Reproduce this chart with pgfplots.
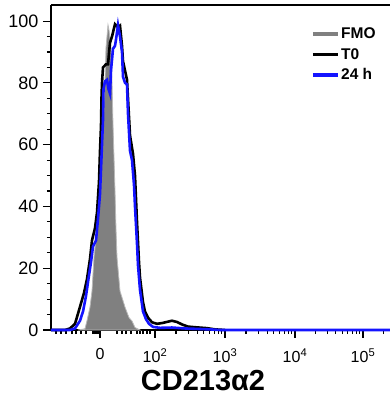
\documentclass[border=0pt]{standalone}
\usepackage{pgfplots}
\pgfplotsset{compat=1.18}
\usepackage{fontspec}
\setmainfont{Liberation Sans}
\definecolor{fmo}{RGB}{128,128,128}
\definecolor{fmoedge}{RGB}{185,185,185}
\definecolor{blu}{RGB}{20,20,255}
\begin{document}
\begin{tikzpicture}[x=1pt,y=1pt]
\path[use as bounding box] (-51,-71) rectangle (339,330);
\begin{axis}[
  anchor=south west, at={(0,0)},
  scale only axis, width=339pt, height=325pt,
  xmin=51, xmax=390, ymin=0, ymax=105.2,
  axis x line=box, axis y line=left,
  axis line style={-, line width=1.4pt, black},
  xtick pos=left, ytick pos=left,
  tick align=outside,
  major tick length=8pt, minor tick length=4pt,
  every tick/.style={black, line width=1.1pt},
  xtick={100,155,225,295,363},
  xticklabels={0,10\textsuperscript{2},10\textsuperscript{3},10\textsuperscript{4},10\textsuperscript{5}},
  minor xtick={56,61,66,72,76,81,86,93,95,97,98.5,117,122,126,131,137,140,143,147,150,
    176,188.4,197.1,203.9,209.5,214.2,218.2,221.8,
    246,258.4,267.1,273.9,279.5,284.2,288.2,291.8,
    315.5,327.4,335.9,342.5,347.9,352.5,356.4,359.9,383.5},
  ytick={0,20,...,100},
  minor y tick num=3,
  /pgf/number format/assume math mode=true,
  yticklabel style={font=\fontsize{18}{18}\selectfont, xshift=-1pt},
  xticklabel style={font=\fontsize{16}{16}\selectfont, yshift=-7pt},
  xlabel={CD213α2},
  every axis x label/.style={at={(axis description cs:0.4484,0)}, anchor=base, yshift=-60pt, font=\fontsize{29}{29}\selectfont\bfseries},
  clip=false,
  legend image code/.code={\draw[#1] (0pt,0pt) -- (25pt,0pt);},
  legend style={draw=none, fill=none, anchor=north west, at={(axis cs:311,98.3)},
    font=\fontsize{15.5}{15.5}\selectfont\bfseries, row sep=5pt, inner sep=0pt,
    nodes={inner sep=1.5pt}},
  legend cell align=left,
]
\addplot[fill=fmo, draw=fmoedge, line width=0.8pt, forget plot] coordinates {
(78,0)(85,0.4)(87,3)(90,7.4)(92,12.6)(94,23.5)(97,32.6)(100,48)(103,66.5)(105,80.3)(106,91.3)(108,98.7)(109,97)(111,91.3)(112,80.3)(113,66.5)(115,45)(116,32.6)(117,23.5)(120,12.6)(125,7.4)(129,4)(132,2.9)(135,0.8)(140,0)
} \closedcycle;
\addplot[black, line width=2.6pt, forget plot] coordinates {
(51,0)(65,0)(70,0.5)(75,2)(80,7.5)(84,12)(87,16.5)(90,23)(92,29)(95,33)(97,38)(99,48)(100,58)(101,66)(101.5,75)(102,80)(103,85)(106,86)(108,86)(110,93)(112,95)(115,99)(118,98)(120,98.5)(122,92)(123,87)(125,84)(127,81)(128,75)(130,63)(133,57)(135,50)(137,35)(139,22)(140,17)(143,9)(145,6)(148,4)(152,2.5)(157,2)(163,2.3)(168,2.7)(172,3)(177,2.6)(182,1.8)(188,1.1)(195,0.9)(207,0.6)(215,0.2)(225,0)
};
\addplot[blu, line width=2.6pt, forget plot] coordinates {
(51,0)(70,0)(75,0.5)(80,3)(83,6)(86,11)(88,15.5)(91,22)(93,27)(96,29)(98,36)(100,44)(101,52)(102,60)(103,68)(103.5,78)(105,80.5)(107,81)(108.5,78)(110,76.5)(111,84)(113,91)(115,92)(116,94)(118,98.7)(120,95)(122,90)(123,82)(125,80)(127,79.5)(128,70)(129,64)(130,58)(132,55)(134,47)(135,40)(137,28)(138,21)(140,13)(143,6)(146,3.5)(149,2)(153,1)(160,0.7)(172,0.8)(185,0.5)(210,0.2)(220,0)(390,0)
};
\addlegendimage{fmo, line width=3.5pt}
\addlegendentry{FMO}
\addlegendimage{black, line width=3.5pt}
\addlegendentry{T0}
\addlegendimage{blu, line width=3.5pt}
\addlegendentry{24 h}
\end{axis}
\end{tikzpicture}
\end{document}
